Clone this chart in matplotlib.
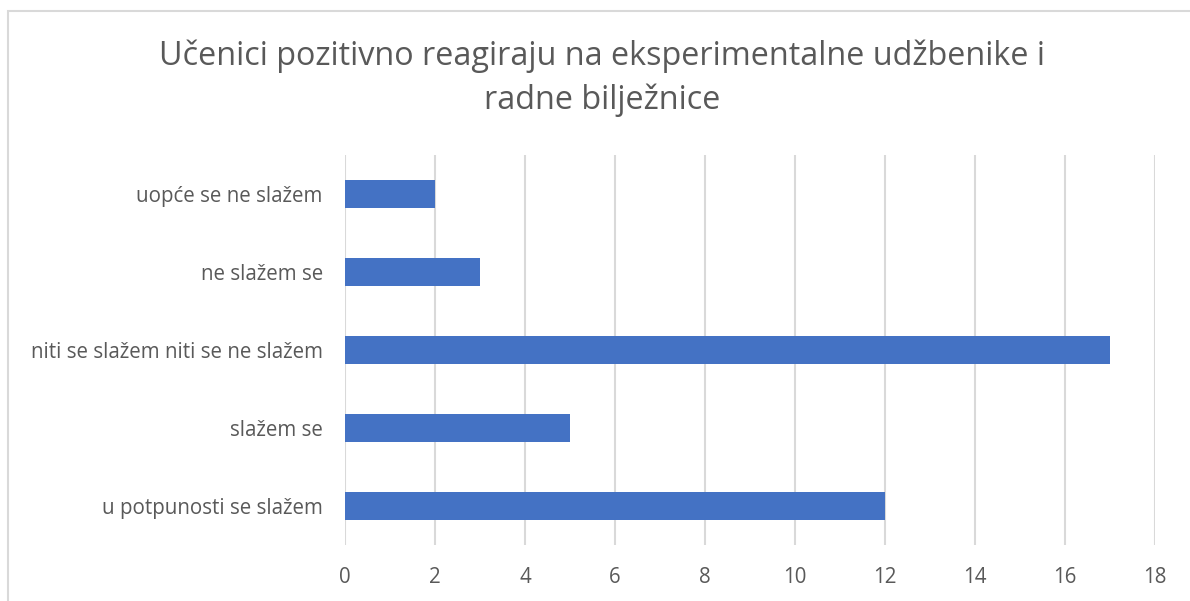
import matplotlib.pyplot as plt
from matplotlib.patches import Rectangle

categories = ['u potpunosti se slažem', 'slažem se', 'niti se slažem niti se ne slažem',
              'ne slažem se', 'uopće se ne slažem']
values = [12, 5, 17, 3, 2]
xticks = [0, 2, 4, 6, 8, 10, 12, 14, 16, 18]
title = 'Učenici pozitivno reagiraju na eksperimentalne udžbenike i\nradne bilježnice'

plt.rcParams['font.family'] = ['Open Sans', 'DejaVu Sans']
txt = '#595959'

fig = plt.figure(figsize=(11.9, 6.01), dpi=100)
W, H = 1190, 601
ax = fig.add_axes([345 / W, 1 - 545 / H, (1155 - 345) / W, (545 - 155) / H])

ax.barh(range(len(categories)), values, height=0.36, color='#4472C4', zorder=3)
ax.set_ylim(-0.5, len(categories) - 0.5)
ax.set_xlim(0, 18)
ax.set_xticks(xticks)
ax.set_yticks(range(len(categories)))
ax.set_yticklabels(categories)
ax.grid(axis='x', color='#D9D9D9', linewidth=1.5, zorder=0)
for s in ax.spines.values():
    s.set_visible(False)
ax.tick_params(axis='both', length=0, labelsize=14.8, colors=txt)
ax.tick_params(axis='y', pad=16)
ax.tick_params(axis='x', pad=16)

fig.text(602 / W, 1 - 78 / H, title, ha='center', va='center', fontsize=23.3,
         color=txt, linespacing=1.4)

fig.add_artist(Rectangle((8 / W, -0.1), 1.2, 1.1 - 11 / H, transform=fig.transFigure,
                         fill=False, edgecolor='#D9D9D9', linewidth=1.5))

fig.savefig('out.png', dpi=100)
